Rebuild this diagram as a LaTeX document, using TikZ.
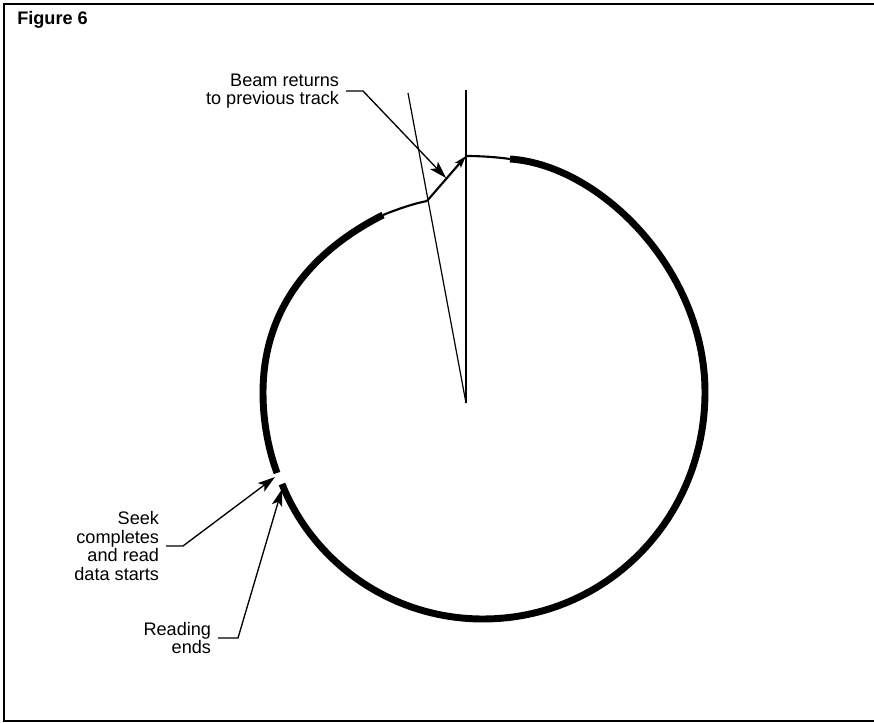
\documentclass[tikz,border=0pt]{standalone}
\usepackage{fontspec}
\setmainfont{Liberation Sans}
\usetikzlibrary{arrows.meta}

\tikzset{
  callout/.style={anchor=east, align=right, inner xsep=5pt, inner ysep=0pt, font=\fontsize{13.6}{14}\selectfont},
  leader/.style={line width=1pt, -{Stealth[length=13pt,width=8pt,inset=3pt]}},
  trackthick/.style={line width=5.2pt},
  trackthin/.style={line width=1.6pt},
  radial/.style={line width=0.9pt},
}

\begin{document}
\begin{tikzpicture}[x=0.75pt,y=0.75pt,yscale=-1]
\useasboundingbox (0,0) rectangle (874,723);

%Shape: Frame
\draw [line width=1pt] (874,4) -- (4,4) -- (4,721) -- (874,721) ;

% Coordinates on the track
\coordinate (centre) at (466,403);
\coordinate (start) at (466,156);
\coordinate (kink) at (427,201);
\coordinate (jump) at (446,178);
\coordinate (seektip) at (275,477);
\coordinate (readtip) at (282,489);

%Straight Lines [radial]
\draw [radial] (centre) -- (466,90) ;
\draw [radial] (centre) -- (408,93) ;

%Curve Lines [track, thin start]
\draw [trackthin] (start) .. controls (480,156) and (496,157) .. (510,159) ;
%Curve Lines [track, thick outer part]
\draw [trackthick] (510,159) .. controls (600,165) and (705,270) .. (705,392) .. controls (705,520) and (605,619) .. (483,619) .. controls (391,619) and (313,562) .. (282,484) ;
%Curve Lines [track, thick inner part]
\draw [trackthick] (277,473) .. controls (269,451) and (263,423) .. (263,393) .. controls (263,310) and (310,252) .. (383,215) ;
%Curve Lines [track, thin end]
\draw [trackthin] (383,215) .. controls (398,209) and (412,204) .. (kink) ;

%Straight Lines [jump back]
\draw [trackthin, -{Stealth[length=9pt,width=5.5pt,inset=1.5pt]}] (kink) -- (start) ;

% Text Node
\draw (17,20) node [anchor=west, inner sep=0pt, font=\fontsize{13.6}{14}\selectfont\bfseries] (figlbl) {Figure 6};
% Text Node
\draw (346,91) node [callout] (beamlbl) {Beam returns\\to previous track};
% Text Node
\draw (166,546) node [callout] (seeklbl) {Seek\\completes\\and read\\data starts};
% Text Node
\draw (218,638) node [callout] (readlbl) {Reading\\ends};

%Leaders
\draw [leader] (beamlbl.east) -- ++(17,0) -- (jump) ;
\draw [leader] (seeklbl.east) -- ++(17,0) -- (seektip) ;
\draw [leader] (readlbl.east) -- ++(20,0) -- (readtip) ;

\end{tikzpicture}
\end{document}
